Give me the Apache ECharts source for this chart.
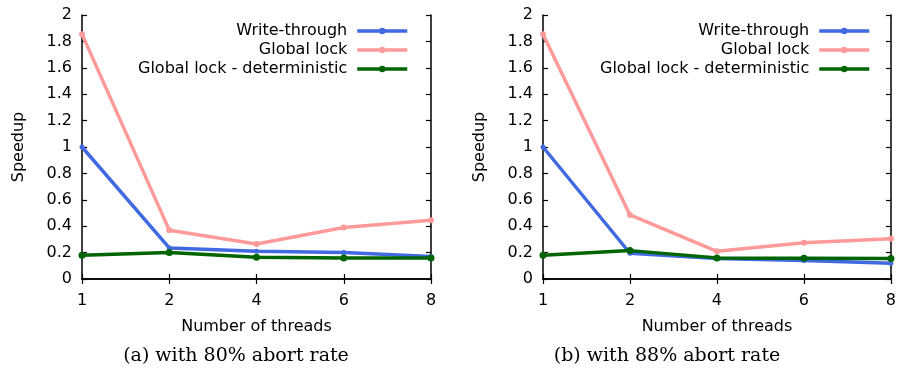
<!DOCTYPE html>
<html>
<head>
<meta charset="utf-8">
<script src="https://cdn.jsdelivr.net/npm/echarts@6/dist/echarts.min.js"></script>
<style>html,body{margin:0;padding:0;background:#fff}#c{width:899px;height:373px}</style>
</head>
<body>
<div id="c"></div>
<script>
const categories = ['1', '2', '4', '6', '8'];
const seriesNames = ['Write-through', 'Global lock', 'Global lock - deterministic'];
const writeThroughA = [1.0, 0.235, 0.21, 0.2, 0.17];
const globalLockA = [1.855, 0.37, 0.265, 0.39, 0.445];
const deterministicA = [0.18, 0.2, 0.165, 0.16, 0.16];
const writeThroughB = [1.0, 0.195, 0.155, 0.14, 0.12];
const globalLockB = [1.855, 0.485, 0.21, 0.275, 0.305];
const deterministicB = [0.18, 0.215, 0.16, 0.158, 0.155];
const captions = ['(a) with 80% abort rate', '(b) with 88% abort rate'];
const xName = 'Number of threads';
const yName = 'Speedup';

const colors = ['#4169E1', '#FF9A9A', '#006400'];
const FONT = 'DejaVu Sans';
const chart = echarts.init(document.getElementById('c'), null, {renderer: 'canvas'});

const grids = [
  {left: 82, right: 468, top: 15, bottom: 94},
  {left: 543, right: 6, top: 15, bottom: 94}
];
const lineAxis = {lineStyle: {color: '#000', width: 1.5}};
const tick = {show: true, inside: true, length: 5, lineStyle: {color: '#000', width: 1.2}};
const xAxes = [], yAxes = [];
grids.forEach((g, i) => {
  xAxes.push({
    gridIndex: i, type: 'category', data: categories, boundaryGap: false, position: 'bottom',
    axisLine: lineAxis, axisTick: tick,
    axisLabel: {color: '#000', fontFamily: FONT, fontSize: 16, margin: 14},
    splitLine: {show: false},
    name: xName, nameLocation: 'middle', nameGap: 40,
    nameTextStyle: {color: '#000', fontFamily: FONT, fontSize: 16}
  });
  xAxes.push({
    gridIndex: i, type: 'category', data: categories, boundaryGap: false, position: 'top',
    axisLine: lineAxis, axisTick: tick, axisLabel: {show: false}, splitLine: {show: false}
  });
  yAxes.push({
    gridIndex: i, type: 'value', min: 0, max: 2, interval: 0.2, position: 'left',
    axisLine: {show: true, lineStyle: {color: '#000', width: 1.5}}, axisTick: tick,
    axisLabel: {color: '#000', fontFamily: FONT, fontSize: 16, margin: 10},
    splitLine: {show: false},
    name: yName, nameLocation: 'middle', nameGap: 55,
    nameTextStyle: {color: '#000', fontFamily: FONT, fontSize: 16}
  });
  yAxes.push({
    gridIndex: i, type: 'value', min: 0, max: 2, interval: 0.2, position: 'right',
    axisLine: {show: true, lineStyle: {color: '#000', width: 1.5}}, axisTick: tick,
    axisLabel: {show: false}, splitLine: {show: false}
  });
});

const dataSets = [[writeThroughA, globalLockA, deterministicA], [writeThroughB, globalLockB, deterministicB]];
const symbolSizes = [5, 6, 7];
const series = [];
dataSets.forEach((set, gi) => {
  set.forEach((vals, si) => {
    series.push({
      name: seriesNames[si], type: 'line', xAxisIndex: gi * 2, yAxisIndex: gi * 2,
      data: vals, symbol: 'circle', symbolSize: symbolSizes[si], showSymbol: true,
      color: colors[si], lineStyle: {width: 3.5, color: colors[si]},
      itemStyle: {color: colors[si]}, animation: false
    });
  });
});

const legendBase = {
  orient: 'vertical', align: 'right', itemWidth: 50, itemHeight: 8, itemGap: 1,
  data: seriesNames, selectedMode: false,
  lineStyle: {width: 3.5},
  textStyle: {color: '#000', fontFamily: FONT, fontSize: 16, lineHeight: 18, padding: [0, 5, 0, 0]}
};

chart.setOption({
  animation: false,
  grid: grids,
  xAxis: xAxes,
  yAxis: yAxes,
  legend: [
    Object.assign({}, legendBase, {right: 485, top: 17}),
    Object.assign({}, legendBase, {right: 23, top: 17})
  ],
  series: series,
  graphic: [
    {type: 'text', x: 236, y: 356, style: {text: captions[0], fill: '#000', font: '19px "DejaVu Serif"', textAlign: 'center', textVerticalAlign: 'middle'}},
    {type: 'text', x: 667, y: 356, style: {text: captions[1], fill: '#000', font: '19px "DejaVu Serif"', textAlign: 'center', textVerticalAlign: 'middle'}}
  ]
});
</script>
</body>
</html>
